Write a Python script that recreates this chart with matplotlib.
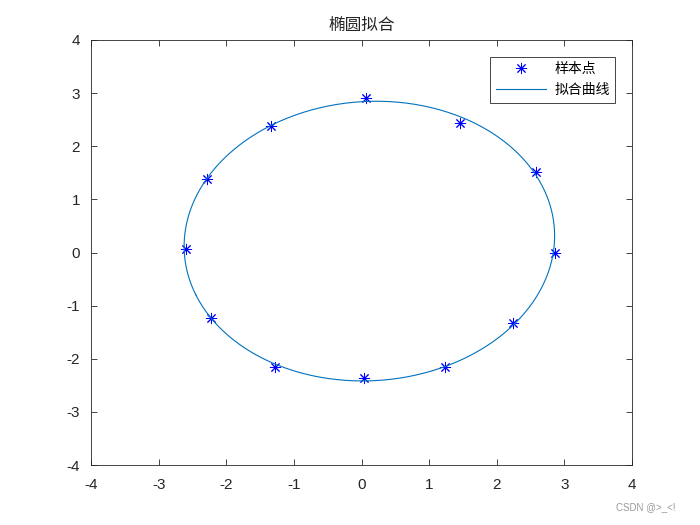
import numpy as np
import matplotlib
matplotlib.use('Agg')
import matplotlib.pyplot as plt

plt.rcParams['font.family'] = ['Liberation Sans', 'Noto Sans CJK SC', 'DejaVu Sans']
plt.rcParams['axes.unicode_minus'] = False

# sample points
x_pts = [0.07, 1.46, 2.58, 2.86, 2.24, 1.24, 0.04, -1.28, -2.22, -2.60, -2.29, -1.34]
y_pts = [2.91, 2.44, 1.52, -0.01, -1.33, -2.16, -2.36, -2.16, -1.23, 0.07, 1.38, 2.38]

title = '椭圆拟合'
labels = ['样本点', '拟合曲线']

# least squares conic fit: A x^2 + B xy + C y^2 + D x + E y = 1
xs = np.array(x_pts)
ys = np.array(y_pts)
G = np.column_stack([xs**2, xs * ys, ys**2, xs, ys])
A, B, C, D, E = np.linalg.lstsq(G, np.ones(len(xs)), rcond=None)[0]
M = np.array([[A, B / 2], [B / 2, C]])
L = np.array([D, E])
c = -0.5 * np.linalg.solve(M, L)
k = 1 - c @ M @ c - L @ c
lam, V = np.linalg.eigh(M)
t = np.linspace(0, 2 * np.pi, 400)
u = np.vstack([np.sqrt(k / lam[0]) * np.cos(t), np.sqrt(k / lam[1]) * np.sin(t)])
curve = V @ u + c[:, None]

fig = plt.figure(figsize=(7, 5.25), dpi=100)
ax = fig.add_axes([0.13, 0.114, 0.773, 0.81])

ax.plot(xs, ys, linestyle='none', marker=(8, 2, 0), markersize=8,
        markeredgewidth=0.7, color='blue', label=labels[0])
ax.plot(curve[0], curve[1], color='#0072BD', linewidth=0.8, label=labels[1])

ax.set_xlim(-4, 4)
ax.set_ylim(-4, 4)
ax.set_xticks(range(-4, 5))
ax.set_yticks(range(-4, 5))
ax.tick_params(direction='in', top=True, right=True, labelsize=11, length=4,
               width=0.6, colors='#262626', labelcolor='#262626')
ax.tick_params(axis='x', pad=9)
ax.tick_params(axis='y', pad=8)
for s in ax.spines.values():
    s.set_linewidth(0.6)
    s.set_color('#262626')
ax.set_title(title, fontsize=12, color='#262626', pad=7)

leg = ax.legend(loc='upper right', fontsize=10, fancybox=False, framealpha=1,
                edgecolor='#262626', handlelength=3.6, borderaxespad=1.2,
                borderpad=0.4, labelspacing=0.5, handletextpad=0.6)
leg.get_frame().set_linewidth(0.6)

fig.text(0.965, 0.028, 'CSDN @>_<!', fontsize=7, color='#9a9a9a', ha='right')

fig.savefig('out.png', dpi=100, facecolor='white')
